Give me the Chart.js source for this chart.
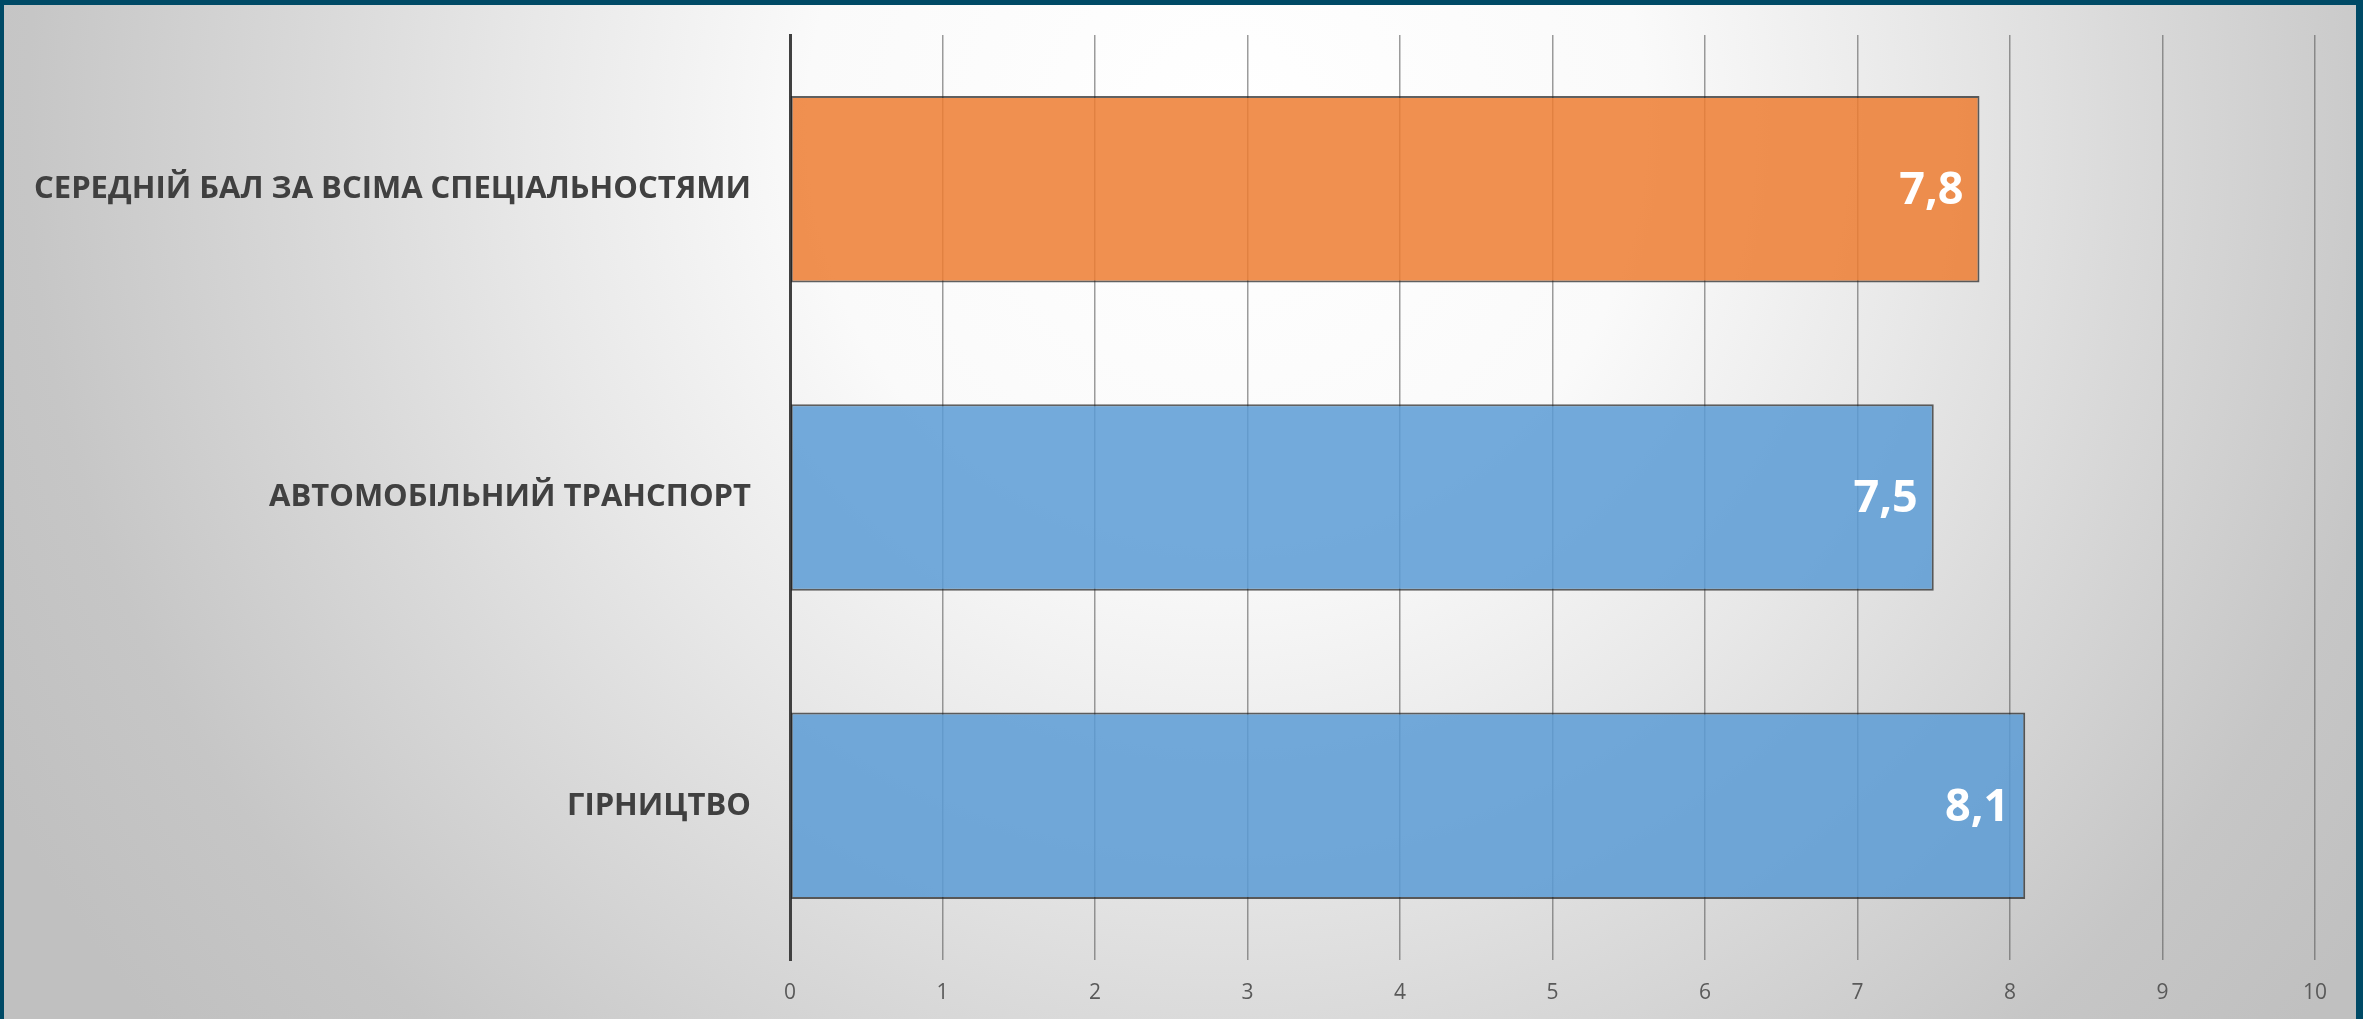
<!DOCTYPE html>
<html>
<head>
<meta charset="utf-8">
<script src="https://cdn.jsdelivr.net/npm/chart.js@4/dist/chart.umd.min.js"></script>
<style>
	html, body { margin: 0; padding: 0; }
	body { width: 2363px; height: 1019px; background: #004a66; overflow: hidden; position: relative; }
	#frame {
		position: absolute; left: 4px; top: 5px; width: 2352px; height: 1014px;
		background: radial-gradient(circle 1400px at 52% 12%, #ffffff 0px, #fafafa 420px, #e8e8e8 700px, #dadada 900px, #c6c6c6 1200px, #c0c0c0 1400px);
	}
	#barChart { display: block; }
</style>
</head>
<body>
<div id="frame"><canvas id="barChart" width="2352" height="1014"></canvas></div>
<script>
const CATEGORIES = [
	'СЕРЕДНІЙ БАЛ ЗА ВСІМА СПЕЦІАЛЬНОСТЯМИ',
	'АВТОМОБІЛЬНИЙ ТРАНСПОРТ',
	'ГІРНИЦТВО'
];
const SCORES = [7.8, 7.5, 8.1];
const X_TICKS = [0, 1, 2, 3, 4, 5, 6, 7, 8, 9, 10];

const COLORS = {
	Average : 'rgba(237, 125, 49, 0.85)',
	Specialty : 'rgba(91, 155, 213, 0.85)',
	Border : 'rgba(30, 30, 30, 0.7)'
};

// white value labels inside the end of each bar
const valueLabels = {
	id: 'valueLabels',
	afterDatasetsDraw(chart){
		let ctx = chart.ctx;
		let meta = chart.getDatasetMeta(0);
		ctx.save();
		ctx.fillStyle = '#ffffff';
		ctx.font = 'bold 45px "Open Sans"';
		ctx.textAlign = 'right';
		ctx.textBaseline = 'middle';
		meta.data.forEach((bar, i) => {
			let text = SCORES[i].toFixed(1).replace('.', ',');
			ctx.fillText(text, bar.x - 16, bar.y + 2);
		});
		ctx.restore();
	}
};

let ctx = document.getElementById('barChart').getContext('2d');

let barChart = new Chart(ctx, {
	type: 'bar',
	data: {
		labels: CATEGORIES,
		datasets: [{
			data: SCORES,
			backgroundColor: [COLORS.Average, COLORS.Specialty, COLORS.Specialty],
			borderColor: COLORS.Border,
			borderWidth: 2,
			borderSkipped: false,
			barPercentage: 0.605,
			categoryPercentage: 1.0
		}]
	},
	options: {
		indexAxis: 'y',
		responsive: false,
		animation: false,
		layout: { padding: { top: 30, right: 41, left: 0, bottom: 0 } },
		plugins: {
			legend: { display: false },
			tooltip: { enabled: false }
		},
		scales: {
			x: {
				min: 0,
				max: 10,
				afterBuildTicks(scale){
					scale.ticks = X_TICKS.map(v => ({ value: v }));
				},
				afterFit(scale){ scale.height = 59; },
				border: { display: false },
				grid: {
					color: 'rgba(90, 90, 90, 0.6)',
					lineWidth: 1.5,
					drawTicks: false
				},
				ticks: {
					color: '#595959',
					font: { family: '"Open Sans"', size: 21 },
					padding: 20
				}
			},
			y: {
				afterFit(scale){
					scale.width = 786;
					scale.paddingTop = 0;
					scale.paddingBottom = 0;
				},
				border: { display: true, color: '#404040', width: 3 },
				grid: { display: false },
				ticks: {
					color: '#404040',
					font: { family: '"Open Sans"', size: 31, weight: 'bold' },
					padding: 31
				}
			}
		}
	},
	plugins: [valueLabels]
});
</script>
</body>
</html>
